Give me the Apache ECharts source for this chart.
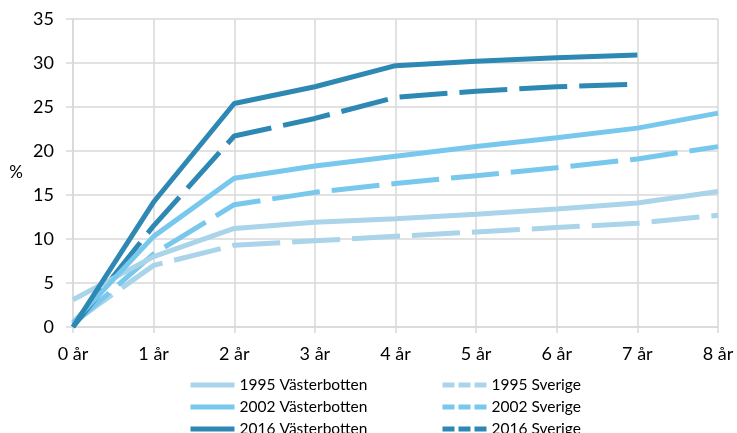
<!DOCTYPE html>
<html>
<head>
<meta charset="utf-8">
<script src="https://cdn.jsdelivr.net/npm/echarts@6/dist/echarts.min.js"></script>
<style>
  html, body { margin: 0; padding: 0; background: #fff; }
  #chart { width: 737px; height: 433px; }
</style>
</head>
<body>
<div id="chart"></div>
<script>
const years = ["0 år", "1 år", "2 år", "3 år", "4 år", "5 år", "6 år", "7 år", "8 år"]
const vb1995 = [3.1, 8.0, 11.2, 11.9, 12.3, 12.8, 13.4, 14.1, 15.4]
const sv1995 = [0.5, 7.0, 9.3, 9.8, 10.3, 10.8, 11.3, 11.8, 12.7]
const vb2002 = [0.5, 10.3, 16.9, 18.3, 19.4, 20.5, 21.5, 22.6, 24.3]
const sv2002 = [0.3, 8.3, 13.9, 15.3, 16.3, 17.2, 18.1, 19.1, 20.5]
const vb2016 = [0, 14.2, 25.4, 27.3, 29.7, 30.2, 30.6, 30.9]
const sv2016 = [0, 11.5, 21.7, 23.7, 26.1, 26.8, 27.3, 27.6]

const c1995 = "#aad4ea"
const c2002 = "#77c8ec"
const c2016 = "#2e88b4"
const dash = [48, 12]
const font = "Lato, 'Open Sans', sans-serif"

function line(name, data, color, dashed) {
  return {
    name: name,
    type: "line",
    data: data,
    symbol: "none",
    smooth: false,
    color: color,
    lineStyle: { width: 5, color: color, type: dashed ? dash : "solid" },
    z: dashed ? 2 : 3
  }
}

function legendCol(left, names, dashed) {
  return {
    orient: "vertical",
    left: left,
    top: 377,
    height: 60,
    padding: 0,
    itemWidth: 44,
    itemHeight: 14,
    itemGap: 6,
    itemStyle: { opacity: 0 },
    lineStyle: { width: 5 },
    textStyle: { fontFamily: font, fontSize: 15.5, lineHeight: 14, color: "#000" },
    data: names.map(n => dashed ? { name: n, lineStyle: { type: [12, 4], width: 5 } } : { name: n })
  }
}

const chart = echarts.init(document.getElementById("chart"))
chart.setOption({
  animation: false,
  grid: { left: 73, right: 19, top: 19, bottom: 106 },
  legend: [
    legendCol(188, ["1995 Västerbotten", "2002 Västerbotten", "2016 Västerbotten"], false),
    legendCol(440, ["1995 Sverige", "2002 Sverige", "2016 Sverige"], true)
  ],
  xAxis: {
    type: "category",
    data: years,
    boundaryGap: false,
    axisLine: { lineStyle: { color: "#d9d9d9", width: 1.5 } },
    axisTick: { show: true, length: 6, lineStyle: { color: "#d9d9d9", width: 1.5 } },
    axisLabel: { fontFamily: font, fontSize: 18, color: "#000", margin: 18 },
    splitLine: { show: true, lineStyle: { color: "#d9d9d9", width: 1.5 } }
  },
  yAxis: {
    type: "value",
    min: 0,
    max: 35,
    interval: 5,
    name: "%",
    nameLocation: "middle",
    nameRotate: 0,
    nameGap: 50,
    nameTextStyle: { fontFamily: font, fontSize: 17, color: "#000" },
    axisLine: { show: true, lineStyle: { color: "#d9d9d9", width: 1.5 } },
    axisTick: { show: true, length: 7, lineStyle: { color: "#d9d9d9", width: 1.5 } },
    axisLabel: { fontFamily: font, fontSize: 18, color: "#000", margin: 19 },
    splitLine: { show: true, lineStyle: { color: "#d9d9d9", width: 1.5 } }
  },
  series: [
    line("1995 Västerbotten", vb1995, c1995, false),
    line("2002 Västerbotten", vb2002, c2002, false),
    line("2016 Västerbotten", vb2016, c2016, false),
    line("1995 Sverige", sv1995, c1995, true),
    line("2002 Sverige", sv2002, c2002, true),
    line("2016 Sverige", sv2016, c2016, true)
  ]
})
</script>
</body>
</html>
